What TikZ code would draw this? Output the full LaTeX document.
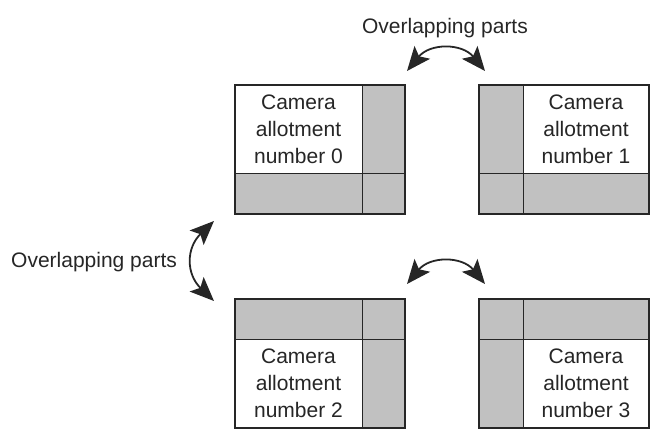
\documentclass[tikz,border=0pt]{standalone}
\usepackage{fontspec}
\setmainfont{Liberation Sans}
\usepackage{xcolor}
\usepackage{tikz}
\usetikzlibrary{arrows.meta, positioning, calc}

\definecolor{shade}{RGB}{193,193,193}

\begin{document}
\begin{tikzpicture}[x=1pt, y=-1pt]
\tikzstyle{cambox}=[rectangle, minimum width=170pt, minimum height=129pt, inner sep=0pt, outer sep=0pt, fill=shade]
\tikzstyle{frame}=[line width=1.8pt, draw=black!85]
\tikzstyle{split}=[line width=0.9pt, draw=black!85]
\tikzstyle{camtext}=[font=\fontsize{21}{27}\selectfont, align=center, inner sep=0pt, text=black!85]
\tikzstyle{parttext}=[font=\fontsize{21}{27}\selectfont, inner sep=0pt, text=black!85]
\tikzstyle{swap}=[{Stealth[length=24pt 0,width=20pt 0,inset=5pt 0]}-{Stealth[length=24pt 0,width=20pt 0,inset=5pt 0]}, line width=1.8pt, black!85]

\useasboundingbox (0,0) rectangle (659,439);

% the four camera areas
\node[cambox] (b0) at (320,149.5) {};
\node[cambox, right=74pt of b0] (b1) {};
\node[cambox, below=85pt of b0] (b2) {};
\node[cambox, right=74pt of b2] (b3) {};

% corners where the grey strips meet
\coordinate (c0) at ($(b0.south east)+(-43,-41)$);
\coordinate (c1) at ($(b1.south west)+(44,-41)$);
\coordinate (c2) at ($(b2.north east)+(-43,40)$);
\coordinate (c3) at ($(b3.north west)+(44,40)$);

\fill[white] (b0.north west) rectangle (c0);
\fill[white] (b1.north east) rectangle (c1);
\fill[white] (b2.south west) rectangle (c2);
\fill[white] (b3.south east) rectangle (c3);

\draw[split] (b0.north -| c0) -- (b0.south -| c0);
\draw[split] (b0.west |- c0) -- (b0.east |- c0);
\draw[split] (b1.north -| c1) -- (b1.south -| c1);
\draw[split] (b1.west |- c1) -- (b1.east |- c1);
\draw[split] (b2.north -| c2) -- (b2.south -| c2);
\draw[split] (b2.west |- c2) -- (b2.east |- c2);
\draw[split] (b3.north -| c3) -- (b3.south -| c3);
\draw[split] (b3.west |- c3) -- (b3.east |- c3);

\draw[frame] (b0.north west) rectangle (b0.south east);
\draw[frame] (b1.north west) rectangle (b1.south east);
\draw[frame] (b2.north west) rectangle (b2.south east);
\draw[frame] (b3.north west) rectangle (b3.south east);

\node[camtext] (t0) at ($(b0.north west)!0.5!(c0)$) {Camera\\allotment\\number 0};
\node[camtext] (t1) at ($(b1.north east)!0.5!(c1)$) {Camera\\allotment\\number 1};
\node[camtext] (t2) at ($(b2.south west)!0.5!(c2)$) {Camera\\allotment\\number 2};
\node[camtext] (t3) at ($(b3.south east)!0.5!(c3)$) {Camera\\allotment\\number 3};

% overlap markers
\node[parttext, anchor=base] (ptop) at (445,33) {Overlapping parts};
\node[parttext, anchor=base west] (pleft) at (11,267) {Overlapping parts};

\coordinate (u0) at (407,71);
\coordinate (u1) at (485,71);
\coordinate (m0) at (407,284);
\coordinate (m1) at (485,284);
\coordinate (l0) at (214,221);
\coordinate (l1) at (214,301);

\draw[swap] (u0) .. controls (430,43) and (462,43) .. (u1);
\draw[swap] (m0) .. controls (430,256) and (462,256) .. (m1);
\draw[swap] (l0) .. controls (186,248) and (186,274) .. (l1);
\end{tikzpicture}
\end{document}
